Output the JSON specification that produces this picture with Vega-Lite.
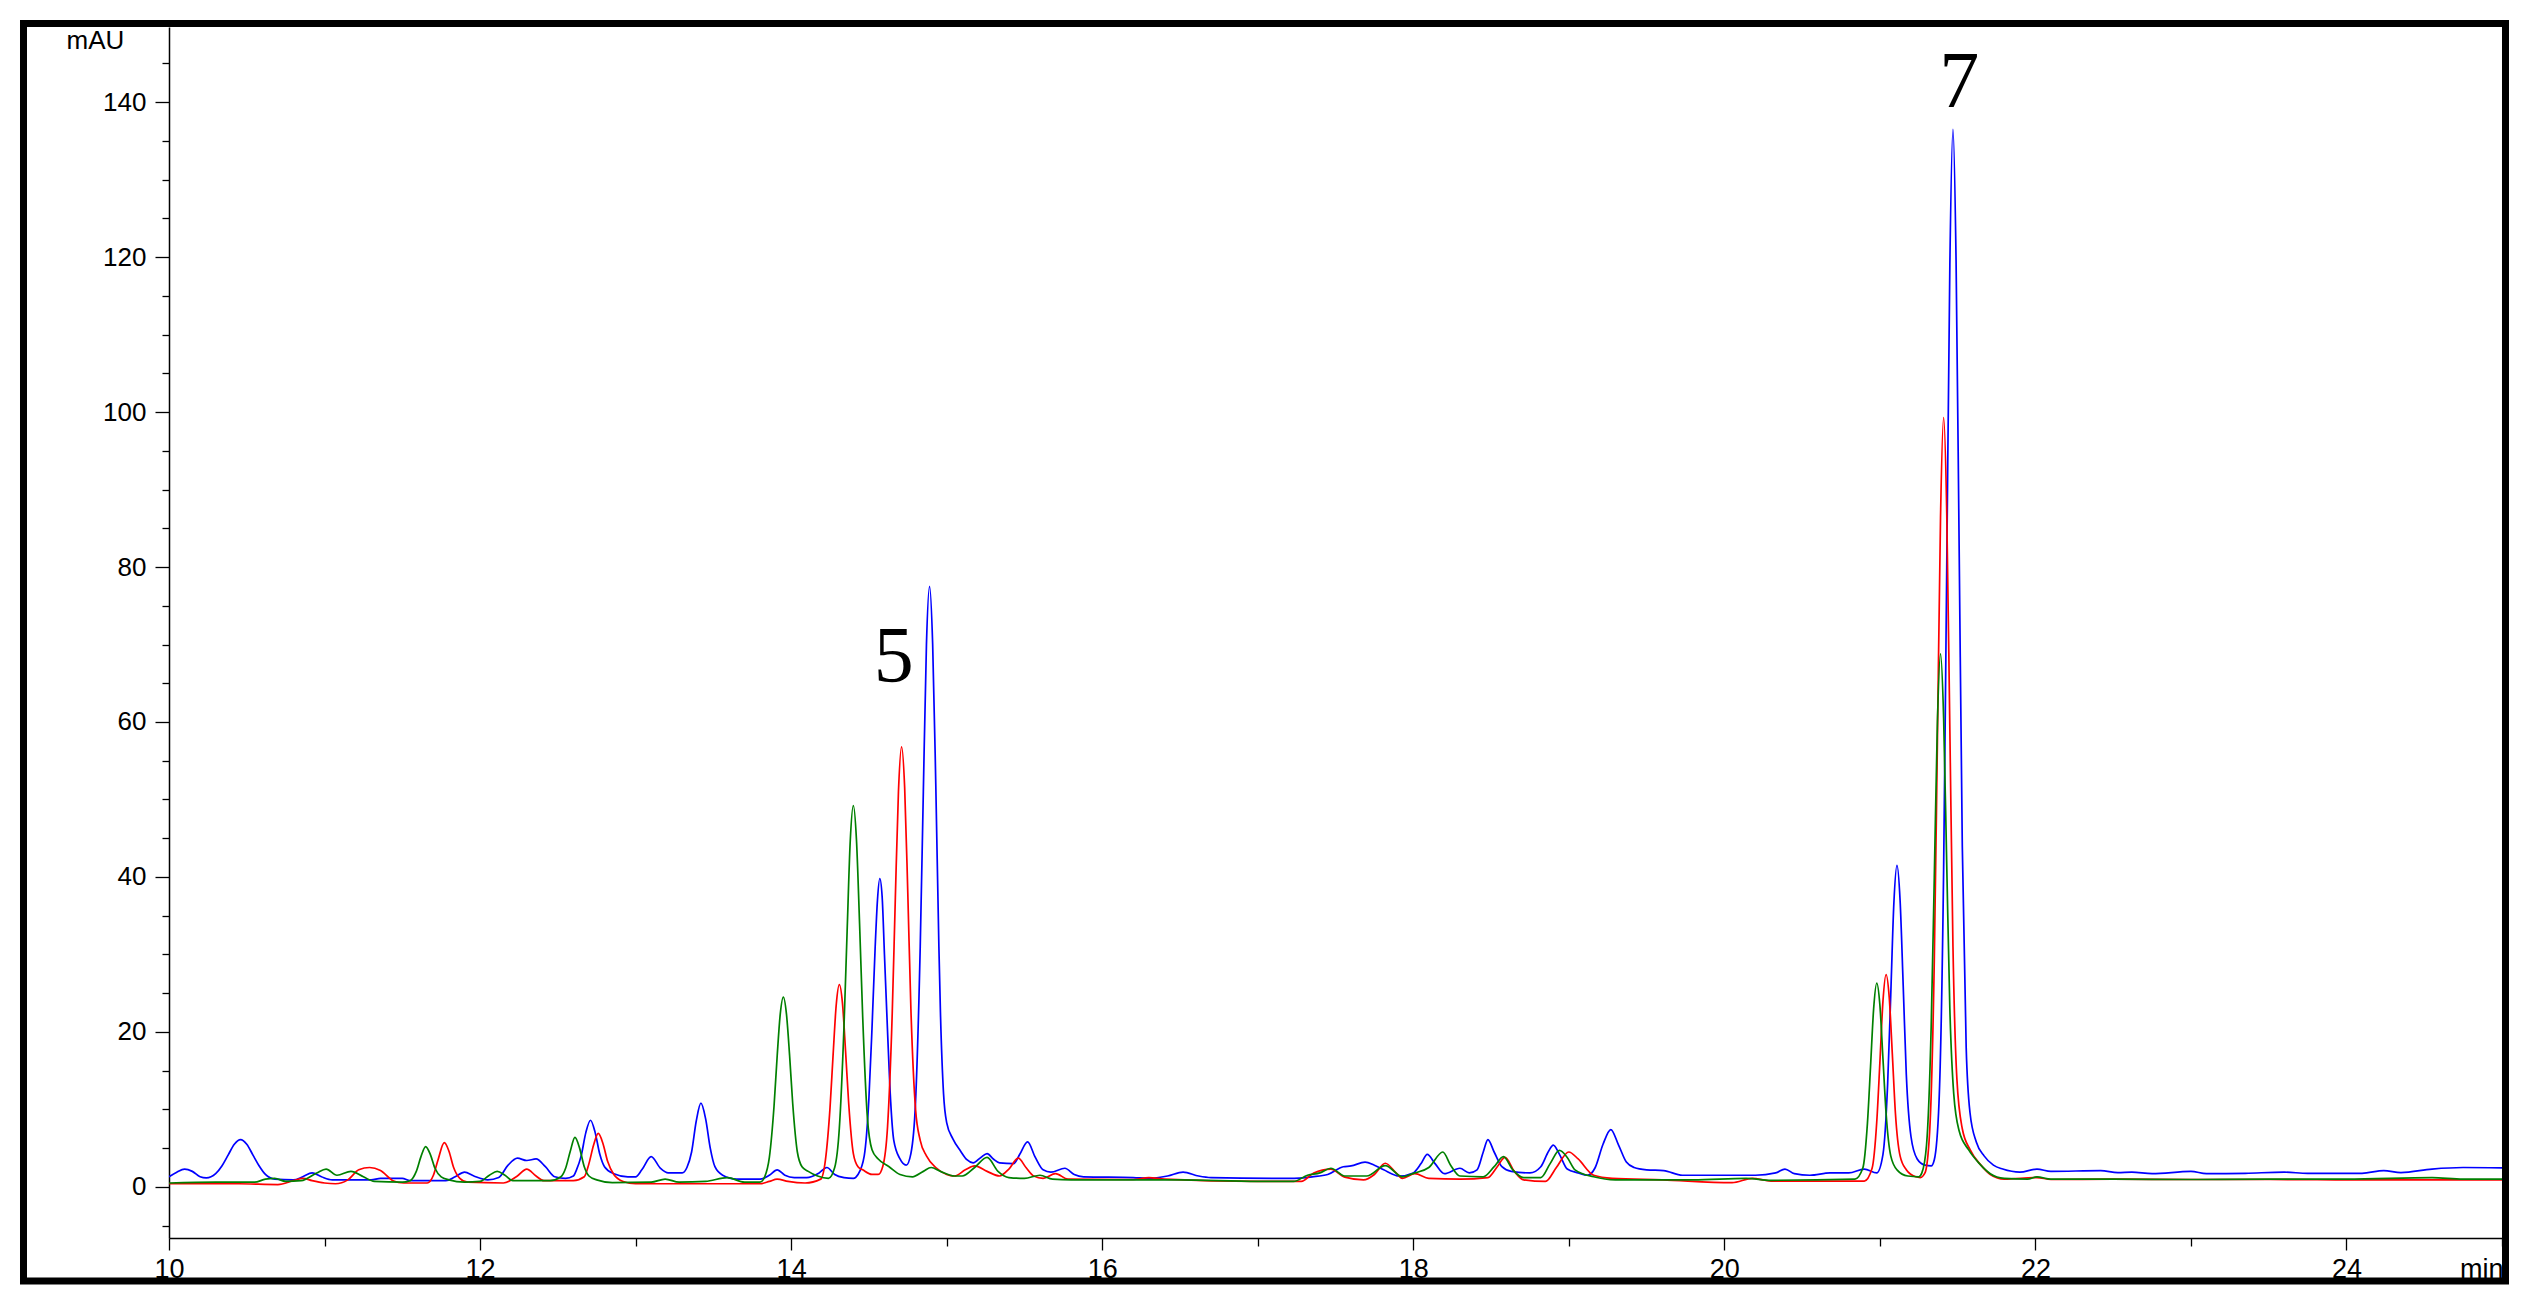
{
"$schema": "https://vega.github.io/schema/vega-lite/v6.json",
"usermeta": {"embedOptions": {"actions": false}},
"width": 2333, "height": 1211,
"autosize": {"type": "none"},
"padding": {"left": 169, "top": 27, "right": 21, "bottom": 66},
"background": "white",
"config": {"view": {"stroke": null}, "font": "Liberation Sans"},
"datasets": {
"blue": [[10.00,1.3],[10.05,1.9],[10.10,2.3],[10.15,2.0],[10.20,1.3],[10.24,1.15],[10.30,1.7],[10.34,2.7],[10.38,4.1],[10.42,5.5],[10.46,6.1],[10.50,5.5],[10.54,4.1],[10.58,2.7],[10.62,1.6],[10.68,1.0],[10.80,0.9],[10.86,1.3],[10.92,1.8],[10.98,1.3],[11.05,0.9],[11.30,0.9],[11.36,1.1],[11.50,1.1],[11.55,0.8],[11.78,0.8],[11.84,1.3],[11.90,1.9],[11.96,1.4],[12.05,0.9],[12.12,1.2],[12.18,2.8],[12.24,3.7],[12.30,3.4],[12.36,3.6],[12.42,2.6],[12.48,1.3],[12.55,1.1],[12.60,1.4],[12.62,2.2],[12.65,4.0],[12.68,7.0],[12.71,8.6],[12.74,7.0],[12.77,4.2],[12.80,2.6],[12.86,1.7],[12.95,1.3],[13.00,1.3],[13.04,2.2],[13.10,3.9],[13.16,2.4],[13.21,1.8],[13.30,1.8],[13.33,2.5],[13.36,4.5],[13.39,8.5],[13.42,10.8],[13.45,8.8],[13.48,5.0],[13.51,2.6],[13.56,1.5],[13.65,1.0],[13.80,1.0],[13.86,1.5],[13.91,2.2],[13.96,1.5],[14.02,1.2],[14.10,1.2],[14.18,1.8],[14.23,2.5],[14.28,1.6],[14.34,1.2],[14.40,1.1],[14.43,1.6],[14.47,4.0],[14.50,11.4],[14.52,20.5],[14.54,30.8],[14.555,37.0],[14.57,39.8],[14.585,37.5],[14.60,30],[14.62,20],[14.64,11],[14.66,6.0],[14.70,3.6],[14.74,2.8],[14.77,4.3],[14.80,11],[14.83,31],[14.85,51],[14.87,70],[14.89,77.5],[14.91,70],[14.93,52],[14.95,31],[14.96,22.5],[14.98,12],[15.00,8.3],[15.04,6.2],[15.09,4.6],[15.13,3.5],[15.17,3.1],[15.22,3.8],[15.26,4.3],[15.30,3.6],[15.34,3.1],[15.43,3.0],[15.47,4.2],[15.52,5.8],[15.57,3.8],[15.62,2.2],[15.67,1.9],[15.76,2.4],[15.82,1.6],[15.88,1.3],[16.20,1.2],[16.30,1.1],[16.42,1.4],[16.52,1.9],[16.62,1.4],[16.70,1.2],[17.20,1.1],[17.35,1.3],[17.45,1.6],[17.55,2.6],[17.60,2.7],[17.69,3.2],[17.75,2.8],[17.81,2.2],[17.91,1.4],[18.00,1.8],[18.05,3.0],[18.09,4.2],[18.14,3.0],[18.20,1.7],[18.30,2.4],[18.36,1.8],[18.41,2.2],[18.45,4.5],[18.48,6.1],[18.52,4.5],[18.57,2.6],[18.63,2.0],[18.75,1.8],[18.82,2.6],[18.87,4.6],[18.90,5.4],[18.94,4.2],[18.99,2.3],[19.06,1.8],[19.12,1.5],[19.17,2.5],[19.22,5.5],[19.27,7.4],[19.32,5.4],[19.37,3.2],[19.42,2.5],[19.50,2.2],[19.61,2.1],[19.73,1.5],[20.00,1.5],[20.20,1.5],[20.33,1.8],[20.39,2.3],[20.45,1.7],[20.55,1.5],[20.68,1.8],[20.80,1.8],[20.90,2.3],[20.98,1.8],[21.02,4.2],[21.05,13.3],[21.07,24.8],[21.09,36.6],[21.11,41.5],[21.13,37],[21.15,26],[21.17,14.5],[21.20,6.5],[21.24,3.6],[21.29,2.8],[21.33,2.7],[21.35,3.5],[21.38,10.8],[21.41,41],[21.43,80],[21.45,119],[21.47,136.5],[21.49,119.5],[21.51,82],[21.53,44],[21.555,18],[21.58,9.5],[21.62,5.8],[21.67,4.0],[21.73,2.8],[21.79,2.3],[21.90,1.9],[22.01,2.3],[22.10,2.0],[22.42,2.1],[22.53,1.85],[22.62,1.9],[22.75,1.7],[23.00,2.0],[23.10,1.7],[23.35,1.75],[23.60,1.9],[23.75,1.75],[24.10,1.75],[24.24,2.1],[24.35,1.85],[24.55,2.3],[24.75,2.5],[25.00,2.45]],
"red": [[10.00,0.4],[10.45,0.4],[10.70,0.3],[10.80,0.8],[10.86,1.1],[10.92,0.8],[11.00,0.5],[11.07,0.4],[11.15,0.9],[11.22,2.2],[11.29,2.5],[11.36,2.1],[11.44,0.8],[11.51,0.5],[11.66,0.5],[11.70,1.5],[11.73,3.5],[11.77,5.7],[11.80,4.6],[11.83,2.5],[11.87,1.1],[11.92,0.6],[12.15,0.5],[12.24,1.4],[12.30,2.3],[12.36,1.4],[12.41,0.8],[12.60,0.8],[12.67,1.3],[12.70,3.0],[12.73,5.4],[12.76,6.9],[12.79,5.6],[12.82,3.3],[12.86,1.6],[12.92,0.7],[13.00,0.4],[13.80,0.4],[13.86,0.7],[13.91,1.0],[13.98,0.7],[14.09,0.5],[14.19,1.0],[14.22,3.4],[14.25,10.2],[14.27,17.1],[14.29,23.5],[14.31,26.1],[14.33,23.7],[14.35,17.5],[14.37,10.8],[14.40,4.3],[14.43,2.6],[14.46,2.2],[14.52,1.6],[14.56,1.6],[14.59,2.7],[14.62,7.8],[14.65,22.4],[14.67,37.3],[14.69,51],[14.71,56.8],[14.73,51.5],[14.75,38],[14.77,23],[14.80,10],[14.83,6],[14.87,4.0],[14.93,2.5],[15.00,1.6],[15.05,1.4],[15.12,2.2],[15.18,2.7],[15.26,2.0],[15.34,1.4],[15.40,2.3],[15.46,3.7],[15.51,2.5],[15.56,1.4],[15.62,1.1],[15.70,1.7],[15.78,1.0],[16.20,0.95],[16.30,1.2],[16.40,1.0],[17.00,0.7],[17.28,0.7],[17.36,1.8],[17.47,2.3],[17.56,1.25],[17.68,0.9],[17.75,1.6],[17.82,3.05],[17.89,1.8],[17.93,1.1],[18.01,1.7],[18.10,1.1],[18.30,1.0],[18.48,1.2],[18.54,2.6],[18.59,3.8],[18.65,2.0],[18.71,0.9],[18.85,0.7],[18.92,2.5],[19.00,4.5],[19.06,3.6],[19.16,1.5],[19.28,1.1],[19.60,0.9],[20.05,0.55],[20.18,1.1],[20.30,0.75],[20.90,0.75],[20.95,2.4],[20.98,8.4],[21.00,16],[21.02,24],[21.04,27.4],[21.06,24.5],[21.08,17.2],[21.10,9.5],[21.13,4],[21.17,2.2],[21.23,1.3],[21.26,1.2],[21.29,1.8],[21.32,7.1],[21.35,29.3],[21.37,57.5],[21.39,86.4],[21.41,99.3],[21.43,87],[21.45,59],[21.47,31],[21.495,14],[21.53,7.5],[21.58,4.8],[21.65,2.8],[21.71,1.6],[21.80,1.0],[22.01,1.2],[22.10,0.95],[22.50,1.0],[23.00,0.95],[23.50,0.95],[24.00,0.9],[24.50,0.9],[25.00,0.9]],
"green": [[10.00,0.5],[10.30,0.6],[10.55,0.6],[10.62,1.0],[10.68,1.1],[10.75,0.7],[10.85,0.8],[10.95,1.8],[11.01,2.3],[11.08,1.5],[11.17,2.0],[11.25,1.3],[11.32,0.7],[11.50,0.6],[11.55,0.8],[11.59,2.0],[11.62,3.9],[11.65,5.2],[11.68,4.2],[11.71,2.4],[11.75,1.3],[11.80,0.9],[11.90,0.6],[12.00,0.7],[12.06,1.5],[12.11,2.0],[12.16,1.5],[12.21,0.8],[12.45,0.8],[12.52,1.3],[12.55,2.4],[12.58,4.6],[12.61,6.4],[12.64,5.0],[12.67,2.6],[12.70,1.4],[12.75,0.9],[12.85,0.55],[13.10,0.6],[13.19,1.0],[13.28,0.6],[13.45,0.7],[13.59,1.2],[13.70,0.6],[13.80,0.6],[13.83,1.3],[13.86,3.8],[13.89,10.4],[13.91,16.8],[13.93,22.3],[13.95,24.5],[13.97,22.3],[13.99,17],[14.01,10.8],[14.04,4.5],[14.07,2.6],[14.11,2.0],[14.17,1.4],[14.24,1.1],[14.28,2.5],[14.31,7.6],[14.34,20.8],[14.36,33],[14.38,44.6],[14.40,49.2],[14.42,44.8],[14.44,34],[14.46,22],[14.49,9],[14.52,4.8],[14.56,3.6],[14.63,2.6],[14.70,1.6],[14.78,1.3],[14.85,2.0],[14.90,2.5],[14.96,2.0],[15.05,1.4],[15.10,1.4],[15.18,2.5],[15.26,3.8],[15.33,2.0],[15.40,1.2],[15.50,1.1],[15.60,1.5],[15.68,1.0],[15.80,0.9],[16.50,0.9],[17.00,0.7],[17.23,0.7],[17.32,1.5],[17.40,1.8],[17.47,2.4],[17.56,1.4],[17.70,1.4],[17.82,2.75],[17.93,1.3],[18.01,1.8],[18.10,2.5],[18.19,4.5],[18.24,2.8],[18.30,1.4],[18.45,1.3],[18.52,2.6],[18.58,3.9],[18.64,2.2],[18.71,1.2],[18.82,1.2],[18.88,3.0],[18.94,4.7],[18.99,3.8],[19.04,2.2],[19.16,1.3],[19.30,0.9],[19.80,0.9],[20.14,1.1],[20.30,0.85],[20.84,1.0],[20.89,2.4],[20.92,8.2],[20.94,15.5],[20.96,23],[20.98,26.3],[21.00,23.5],[21.02,16.5],[21.04,9.5],[21.07,4],[21.11,2.2],[21.18,1.4],[21.25,1.3],[21.27,1.8],[21.30,5.4],[21.33,20.7],[21.35,40],[21.37,60],[21.39,68.8],[21.41,60.5],[21.43,41.5],[21.45,23],[21.475,12],[21.51,7.2],[21.57,4.8],[21.64,3.0],[21.71,1.7],[21.80,1.1],[21.95,1.0],[22.01,1.3],[22.10,1.0],[22.50,1.0],[23.00,0.95],[23.50,1.0],[24.00,1.0],[24.55,1.2],[24.75,1.0],[25.00,1.0]]
},
"layer": [
{
"data": {"name": "blue"},
"transform": [{"calculate": "datum[0]", "as": "t"}, {"calculate": "datum[1]", "as": "v"}],
"mark": {"type": "line", "strokeWidth": 1.7, "interpolate": "monotone", "color": "#0000ff", "clip": true},
"encoding": {
"x": {"field": "t", "type": "quantitative", "scale": {"domain": [10, 25], "nice": false, "zero": false},
"axis": {"values": [10,10.5,11,11.5,12,12.5,13,13.5,14,14.5,15,15.5,16,16.5,17,17.5,18,18.5,19,19.5,20,20.5,21,21.5,22,22.5,23,23.5,24,24.5,25],
"format": "d",
"labelExpr": "datum.value % 2 === 0 ? datum.label : ''",
"tickSize": {"condition": {"test": "datum.value % 2 === 0", "value": 12}, "value": 8},
"labelPadding": 27, "labelBaseline": "alphabetic", "labelFontSize": 27, "labelColor": "black", "labelFont": "Liberation Sans",
"labelFlush": false, "labelOverlap": false, "grid": false,
"domainColor": "black", "domainWidth": 1.5, "tickColor": "black", "tickWidth": 1.3,
"title": "min", "titleFontSize": 27, "titleFontWeight": "normal", "titleFont": "Liberation Sans", "titleColor": "black",
"titleAlign": "right", "titleAnchor": "end", "titleX": 2334, "titleY": 39, "titleBaseline": "alphabetic"}},
"y": {"field": "v", "type": "quantitative", "scale": {"domain": [-6.6, 149.7], "nice": false, "zero": false},
"axis": {"values": [-5,0,5,10,15,20,25,30,35,40,45,50,55,60,65,70,75,80,85,90,95,100,105,110,115,120,125,130,135,140,145],
"format": "d",
"labelExpr": "datum.value % 20 === 0 ? datum.label : ''",
"tickSize": {"condition": {"test": "datum.value % 20 === 0", "value": 14}, "value": 7},
"labelPadding": 9, "labelBaseline": "middle", "labelFontSize": 26, "labelColor": "black", "labelFont": "Liberation Sans",
"labelOverlap": false, "grid": false,
"domainColor": "black", "domainWidth": 1.5, "tickColor": "black", "tickWidth": 1.3,
"title": "mAU", "titleAngle": 0, "titleFontSize": 26, "titleFontWeight": "normal", "titleFont": "Liberation Sans", "titleColor": "black",
"titleAlign": "center", "titleX": -74, "titleY": 21, "titleBaseline": "alphabetic"}}
}
},
{
"data": {"name": "red"},
"transform": [{"calculate": "datum[0]", "as": "t"}, {"calculate": "datum[1]", "as": "v"}],
"mark": {"type": "line", "strokeWidth": 1.7, "interpolate": "monotone", "color": "#ff0000", "clip": true},
"encoding": {
"x": {"field": "t", "type": "quantitative", "scale": {"domain": [10, 25], "nice": false, "zero": false}},
"y": {"field": "v", "type": "quantitative", "scale": {"domain": [-6.6, 149.7], "nice": false, "zero": false}}
}
},
{
"data": {"name": "green"},
"transform": [{"calculate": "datum[0]", "as": "t"}, {"calculate": "datum[1]", "as": "v"}],
"mark": {"type": "line", "strokeWidth": 1.7, "interpolate": "monotone", "color": "#008000", "clip": true},
"encoding": {
"x": {"field": "t", "type": "quantitative", "scale": {"domain": [10, 25], "nice": false, "zero": false}},
"y": {"field": "v", "type": "quantitative", "scale": {"domain": [-6.6, 149.7], "nice": false, "zero": false}}
}
},
{
"data": {"values": [{"label": "5", "t": 14.66, "v": 65.2}, {"label": "7", "t": 21.51, "v": 139.35}]},
"mark": {"type": "text", "font": "Liberation Serif", "fontSize": 80, "baseline": "alphabetic", "align": "center", "color": "black"},
"encoding": {
"x": {"field": "t", "type": "quantitative", "scale": {"domain": [10, 25], "nice": false, "zero": false}},
"y": {"field": "v", "type": "quantitative", "scale": {"domain": [-6.6, 149.7], "nice": false, "zero": false}},
"text": {"field": "label"}
}
},
{
"data": {"values": [{}]},
"mark": {"type": "rect", "filled": false, "stroke": "black", "strokeWidth": 7, "clip": false},
"encoding": {
"x": {"datum": 9.0645, "type": "quantitative", "scale": {"domain": [10, 25], "nice": false, "zero": false}},
"x2": {"datum": 25.0225},
"y": {"datum": 150.15, "type": "quantitative", "scale": {"domain": [-6.6, 149.7], "nice": false, "zero": false}},
"y2": {"datum": -12.15}
}
}
]
}
